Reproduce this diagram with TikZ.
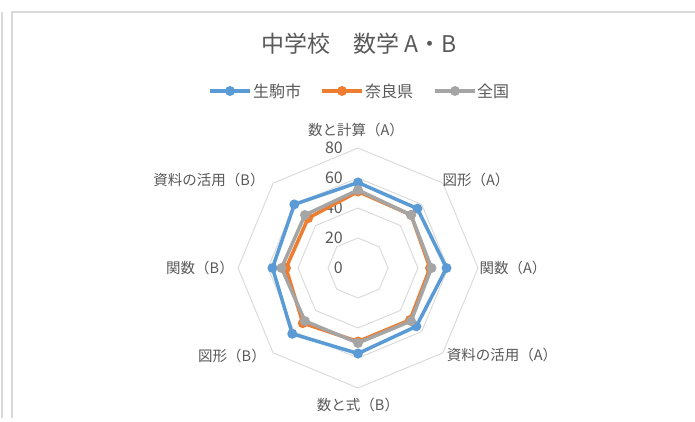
\documentclass[tikz,border=0pt]{standalone}
\usepackage{fontspec}
\setmainfont{Noto Sans CJK JP}
\usetikzlibrary{calc}
\definecolor{blueC}{HTML}{5B9BD5}
\definecolor{orangeC}{HTML}{ED7D31}
\definecolor{grayC}{HTML}{A5A5A5}
\definecolor{txt}{HTML}{595959}
\definecolor{gridC}{HTML}{D9D9D9}
\begin{document}
\begin{tikzpicture}[x=1pt,y=-1pt,
  gridline/.style={draw=gridC, line width=0.9pt},
  framel/.style={draw=gridC, line width=1.5pt},
  ser/.style={line width=3.5pt, line join=round},
  lab/.style={text=txt, font=\fontsize{14.5}{17}\selectfont, inner sep=0pt},
  tick/.style={text=txt, font=\fontsize{16}{18}\selectfont, inner sep=0pt, anchor=east},
  leg/.style={text=txt, font=\fontsize{16}{18}\selectfont, inner sep=0pt, anchor=west},
]
\useasboundingbox (0,0) rectangle (695,421);
\fill[white] (0,0) rectangle (695,421);
% frame
\draw[framel] (2,12) -- (2,418);
\draw[framel] (12,418) -- (12,12) -- (695,12);
% title
\node[text=txt, font=\fontsize{23}{27}\selectfont, inner sep=0pt] (title) at (359,44) {中学校　数学\hspace{5pt}A・B};
% legend
\coordinate (lb1) at (210,91); \coordinate (lb2) at (250,91);
\coordinate (lo1) at (322,91); \coordinate (lo2) at (362,91);
\coordinate (lg1) at (435,91); \coordinate (lg2) at (475,91);
\draw[blueC, line width=3.5pt] (lb1) -- (lb2);
\fill[blueC] ($(lb1)!0.5!(lb2)$) circle (5pt);
\draw[orangeC, line width=3.5pt] (lo1) -- (lo2);
\fill[orangeC] ($(lo1)!0.5!(lo2)$) circle (5pt);
\draw[grayC, line width=3.5pt] (lg1) -- (lg2);
\fill[grayC] ($(lg1)!0.5!(lg2)$) circle (5pt);
\node[leg] (legB) at (253,91) {生駒市};
\node[leg] (legO) at (365,91) {奈良県};
\node[leg] (legG) at (477,91) {全国};
% grid
\coordinate (c) at (358,268);
\foreach \r in {30,60,90,120}{
  \draw[gridline, shift={(c)}] (90:\r pt) \foreach \k in {1,...,7}{ -- ({90-45*\k}:\r pt)} -- cycle;
}
% ticks
\node[tick] (t80) at (343,148) {80};
\node[tick] (t60) at (343,178) {60};
\node[tick] (t40) at (343,208) {40};
\node[tick] (t20) at (343,238) {20};
\node[tick] (t0) at (343,268) {0};
% axis labels
\node[lab] (a1) at (356,130) {数と計算（A）};
\node[lab] (a2) at (476,180) {図形（A）};
\node[lab] (a3) at (513,268) {関数（A）};
\node[lab] (a4) at (502,355) {資料の活用（A）};
\node[lab] (a5) at (358,405) {数と式（B）};
\node[lab] (a6) at (232,356) {図形（B）};
\node[lab] (a7) at (200,268) {関数（B）};
\node[lab] (a8) at (209,180) {資料の活用（B）};
% series
\foreach \v [count=\i from 0] in {57,56,59,55,57,62,57,60}{
  \coordinate (b\i) at ([shift={(c)}] {90-45*\i}:{1.5*\v pt});
}
\foreach \v [count=\i from 0] in {51,50,48,49,49,52,48,47}{
  \coordinate (o\i) at ([shift={(c)}] {90-45*\i}:{1.5*\v pt});
}
\foreach \v [count=\i from 0] in {52,50,49,50,50,50,51,50}{
  \coordinate (g\i) at ([shift={(c)}] {90-45*\i}:{1.5*\v pt});
}
\draw[ser, blueC] (b0) -- (b1) -- (b2) -- (b3) -- (b4) -- (b5) -- (b6) -- (b7) -- cycle;
\foreach \i in {0,...,7}{ \fill[blueC] (b\i) circle (5pt); }
\draw[ser, orangeC] (o0) -- (o1) -- (o2) -- (o3) -- (o4) -- (o5) -- (o6) -- (o7) -- cycle;
\foreach \i in {0,...,7}{ \fill[orangeC] (o\i) circle (5pt); }
\draw[ser, grayC] (g0) -- (g1) -- (g2) -- (g3) -- (g4) -- (g5) -- (g6) -- (g7) -- cycle;
\foreach \i in {0,...,7}{ \fill[grayC] (g\i) circle (5pt); }
\end{tikzpicture}
\end{document}
